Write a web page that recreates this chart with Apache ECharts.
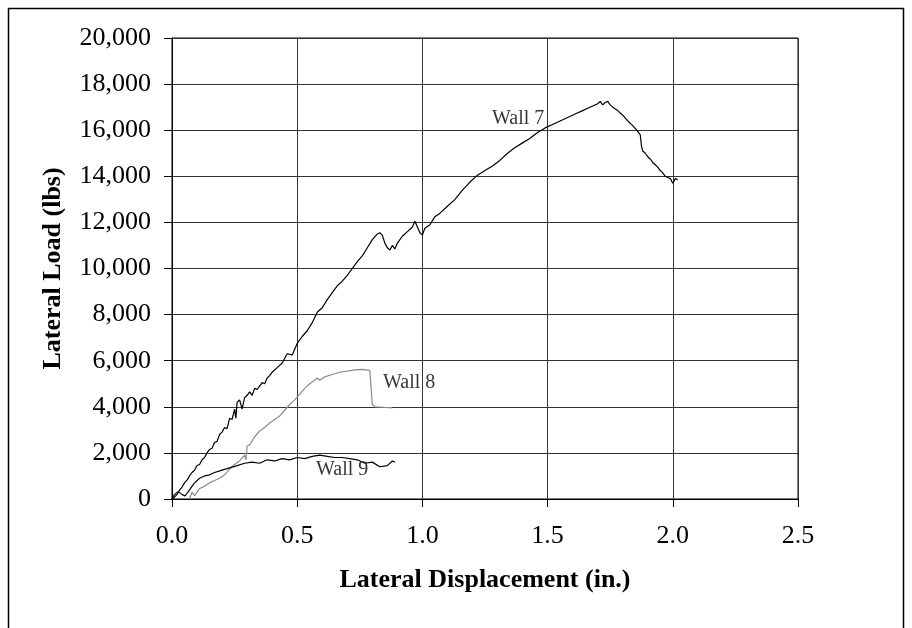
<!DOCTYPE html>
<html>
<head>
<meta charset="utf-8">
<script src="https://cdn.jsdelivr.net/npm/echarts@6/dist/echarts.min.js"></script>
<style>
html,body{margin:0;padding:0;background:#fff;}
#main{width:912px;height:628px;}
</style>
</head>
<body>
<div id="main"></div>
<script>
// ---- data ----
var xTicks = [0, 0.5, 1.0, 1.5, 2.0, 2.5];
var yTicks = [0, 2000, 4000, 6000, 8000, 10000, 12000, 14000, 16000, 18000, 20000];

var wall7X = [0.00,0.01,0.02,0.03,0.04,0.05,0.06,0.07,0.08,0.09,0.10,0.11,0.12,0.13,0.14,0.15,0.16,0.17,0.18,0.19,0.20,0.21,0.22,0.23,0.24,0.25,0.255,0.26,0.27,0.28,0.29,0.30,0.31,0.32,0.33,0.34,0.35,0.36,0.37,0.38,0.39,0.40,0.42,0.44,0.46,0.48,0.50,0.52,0.54,0.56,0.58,0.60,0.62,0.64,0.66,0.68,0.70,0.72,0.74,0.76,0.78,0.80,0.82,0.83,0.84,0.85,0.86,0.87,0.88,0.89,0.90,0.92,0.94,0.96,0.97,0.98,0.99,1.00,1.01,1.03,1.05,1.07,1.10,1.13,1.16,1.19,1.22,1.25,1.28,1.31,1.34,1.37,1.40,1.43,1.46,1.49,1.52,1.55,1.58,1.61,1.64,1.66,1.68,1.70,1.71,1.72,1.73,1.74,1.75,1.76,1.78,1.80,1.82,1.84,1.86,1.87,1.875,1.88,1.89,1.90,1.91,1.92,1.93,1.94,1.95,1.96,1.97,1.98,1.99,2.00,2.01,2.02];
var wall7Y = [0,80,200,380,520,700,820,1000,1150,1250,1450,1500,1700,1800,2000,2150,2200,2450,2500,2800,2900,3100,3050,3500,3450,3900,3500,4200,4300,3900,4400,4500,4650,4500,4800,4750,4900,5050,5000,5250,5350,5500,5700,5900,6300,6250,6750,7050,7300,7650,8100,8300,8650,8950,9250,9450,9700,10000,10300,10550,10900,11250,11500,11550,11450,11100,10900,10800,11000,10850,11100,11400,11600,11800,12050,11800,11550,11450,11750,11900,12250,12400,12700,13000,13400,13750,14050,14250,14450,14700,15000,15250,15450,15650,15900,16100,16250,16400,16550,16700,16850,16950,17050,17150,17250,17100,17200,17250,17100,17000,16850,16650,16400,16200,15950,15800,15300,15100,15000,14850,14750,14600,14500,14400,14250,14150,14000,13950,13900,13700,13900,13850];

var wall8X = [0.07,0.08,0.09,0.11,0.13,0.15,0.17,0.19,0.21,0.23,0.25,0.27,0.29,0.295,0.30,0.31,0.33,0.35,0.37,0.39,0.41,0.43,0.45,0.47,0.49,0.51,0.53,0.55,0.57,0.58,0.59,0.61,0.64,0.67,0.70,0.73,0.76,0.79,0.795,0.80,0.81,0.84,0.88];
var wall8Y = [0,300,150,450,550,700,800,900,1050,1300,1500,1650,1900,1700,2300,2350,2700,2950,3100,3300,3450,3600,3850,4100,4300,4550,4800,5000,5150,5250,5150,5300,5400,5500,5550,5600,5620,5580,5500,4100,4000,3980,3950];

var wall9X = [0.00,0.01,0.025,0.04,0.052,0.07,0.09,0.11,0.13,0.15,0.17,0.20,0.23,0.26,0.29,0.32,0.35,0.38,0.41,0.44,0.47,0.50,0.53,0.56,0.59,0.62,0.65,0.68,0.71,0.74,0.77,0.80,0.83,0.86,0.88,0.89];
var wall9Y = [0,200,320,200,130,400,700,900,1000,1050,1150,1250,1350,1450,1550,1600,1550,1700,1650,1750,1700,1800,1750,1850,1900,1850,1800,1800,1750,1700,1550,1600,1400,1450,1650,1600];

var labelNames = ['Wall 7', 'Wall 8', 'Wall 9'];
var labelX = [1.278, 0.843, 0.575];
var labelY = [16486, 5032, 1258];

function pairs(xs, ys){ return xs.map(function(x,i){ return [x, ys[i]]; }); }

var FONT = '"Liberation Serif", "Times New Roman", serif';
var chart = echarts.init(document.getElementById('main'), null, {renderer:'canvas'});
var option = {
  backgroundColor: '#ffffff',
  animation: false,
  grid: { left: 172, top: 38, right: 114, bottom: 129, show: true, borderColor: '#000', borderWidth: 1, backgroundColor: 'transparent' },
  xAxis: {
    type: 'value', min: xTicks[0], max: xTicks[xTicks.length-1], interval: 0.5,
    name: 'Lateral Displacement (in.)', nameLocation: 'middle', nameGap: 68,
    nameTextStyle: { fontFamily: FONT, fontSize: 26, fontWeight: 'bold', color: '#000' },
    axisLine: { onZero: false, lineStyle: { color: '#000', width: 1 } },
    axisTick: { show: true, inside: false, length: 8, lineStyle: { color: '#000' } },
    axisLabel: { margin: 24, fontFamily: FONT, fontSize: 26, color: '#000', formatter: function(v){ return v.toFixed(1); } },
    splitLine: { show: true, lineStyle: { color: '#333', width: 1 } }
  },
  yAxis: {
    type: 'value', min: yTicks[0], max: yTicks[yTicks.length-1], interval: 2000,
    name: 'Lateral Load (lbs)', nameLocation: 'middle', nameGap: 106,
    nameTextStyle: { fontFamily: FONT, fontSize: 26, fontWeight: 'bold', color: '#000' },
    axisLine: { onZero: false, lineStyle: { color: '#000', width: 1 } },
    axisTick: { show: true, inside: false, length: 8, lineStyle: { color: '#000' } },
    axisLabel: { margin: 21, fontFamily: FONT, fontSize: 26, color: '#000', formatter: function(v){ return v.toLocaleString('en-US'); } },
    splitLine: { show: true, lineStyle: { color: '#333', width: 1 } }
  },
  series: [
    { name: 'Wall 7', type: 'line', data: pairs(wall7X, wall7Y), showSymbol: false, lineStyle: { color: '#000', width: 1.2 }, z: 3 },
    { name: 'Wall 8', type: 'line', data: pairs(wall8X, wall8Y), showSymbol: false, lineStyle: { color: '#8c8c8c', width: 1.2 }, z: 2 },
    { name: 'Wall 9', type: 'line', data: pairs(wall9X, wall9Y), showSymbol: false, lineStyle: { color: '#000', width: 1.2 }, z: 3 },
    { name: 'labels', type: 'scatter', symbolSize: 0, z: 4,
      data: labelNames.map(function(n,i){ return { value: [labelX[i], labelY[i]], name: n }; }),
      label: { show: true, position: 'right', distance: 0, formatter: '{b}', fontFamily: FONT, fontSize: 20, color: '#000' } }
  ],
  graphic: [
    { type: 'rect', shape: { x: 8.5, y: 8.5, width: 895, height: 660 }, style: { fill: null, stroke: '#000', lineWidth: 1.5 }, silent: true }
  ]
};
chart.setOption(option);
</script>
</body>
</html>
